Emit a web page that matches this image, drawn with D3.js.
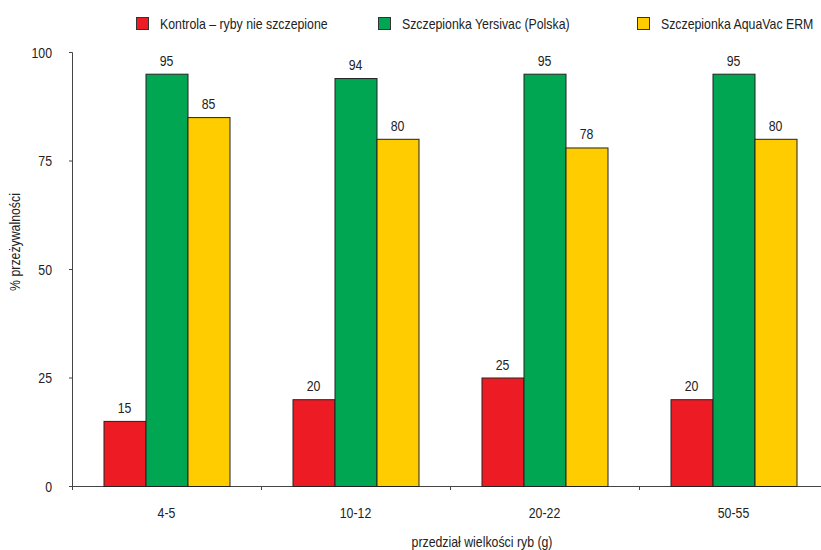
<!DOCTYPE html>
<html><head><meta charset="utf-8">
<script src="https://cdn.jsdelivr.net/npm/d3@7"></script>
<style>
body{margin:0;background:#fff;}
text{font-family:"Liberation Sans",Arial,sans-serif;fill:#222;}
</style></head>
<body><svg id="c" width="821" height="550"></svg>
<script>
const categories = ["4-5","10-12","20-22","50-55"];
const seriesNames = ["Kontrola – ryby nie szczepione","Szczepionka Yersivac (Polska)","Szczepionka AquaVac ERM"];
const kontrola = [15,20,25,20];
const yersivac = [95,94,95,95];
const aquavac = [85,80,78,80];
const yTicks = [0,25,50,75,100];
const colors = ["#ED1C24","#00A651","#FFCC00"];
const series = [kontrola, yersivac, aquavac];

const SX = 0.88, FS = "14px";
const svg = d3.select("#c");
function txt(parent, x, y, s, anchor, rot){
  return parent.append("text")
    .attr("transform", `translate(${x},${y})` + (rot?` rotate(${rot})`:"") + ` scale(${SX},1)`)
    .attr("text-anchor", anchor||"start").style("font-size",FS).text(s);
}

const x0 = d3.scaleBand().domain(categories).range([72,828]);
const x1 = d3.scaleBand().domain(d3.range(3)).range([31.5, 189-31.5]);
const y = d3.scaleLinear().domain([0,100]).range([486,52]);

// axes
const yAxis = svg.append("g").attr("transform","translate(72,0)")
  .call(d3.axisLeft(y).tickValues(yTicks).tickSize(3).tickFormat(""));
yAxis.select(".domain").attr("stroke","#444").attr("d","M-3,52.5H0.5V486.5");
yAxis.selectAll(".tick line").attr("stroke","#444");
yAxis.selectAll(".tick").each(function(d){
  txt(d3.select(this), -20, 5, d, "end");
});

const xAxis = svg.append("g").attr("transform","translate(0,486)")
  .call(d3.axisBottom(x0).tickSize(0).tickFormat(""));
xAxis.select(".domain").attr("stroke","#444").attr("d","M72,0.5H828");
xAxis.selectAll(".tick").each(function(d){
  txt(d3.select(this), 0, 32, d, "middle");
});
svg.append("g").selectAll("line").data(categories).join("line")
  .attr("x1",d=>x0(d)+0.5).attr("x2",d=>x0(d)+0.5)
  .attr("y1",486).attr("y2",490).attr("stroke","#444");

// bars
const g = svg.append("g");
categories.forEach((c,i)=>{
  series.forEach((s,j)=>{
    const bx = x0(c)+x1(j);
    g.append("rect").attr("x",bx+0.5).attr("y",y(s[i])+0.5)
      .attr("width",x1.bandwidth()).attr("height",y(0)-y(s[i]))
      .attr("fill",colors[j]).attr("stroke","#222").attr("stroke-width",1);
    txt(g, bx+x1.bandwidth()/2, y(s[i])-8, s[i], "middle");
  });
});

// legend
const legX = [136,378,637];
seriesNames.forEach((n,j)=>{
  svg.append("rect").attr("x",legX[j]+0.5).attr("y",17.5).attr("width",12).attr("height",12)
    .attr("fill",colors[j]).attr("stroke","#333");
  txt(svg, legX[j]+24, 29, n, "start");
});

// axis titles
txt(svg, 20, 242, "% przeżywalności", "middle", -90);
txt(svg, 482, 547, "przedział wielkości ryb (g)", "middle");
</script></body></html>
